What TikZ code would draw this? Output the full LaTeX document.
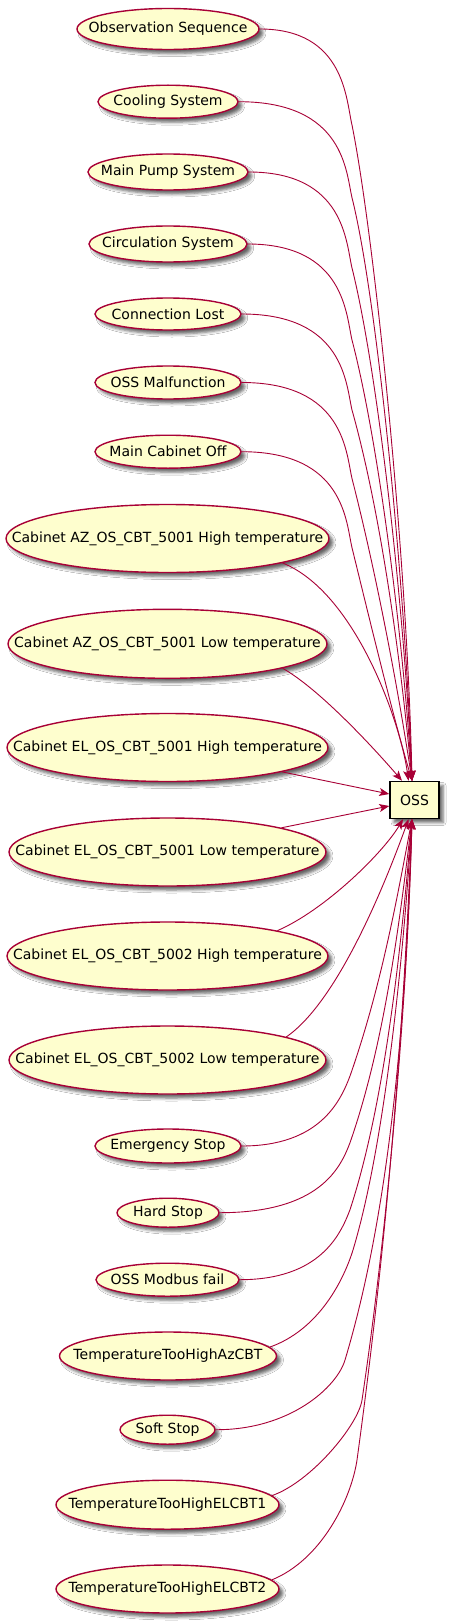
\documentclass[tikz,border=0pt]{standalone}
\usepackage{fontspec}
\setmainfont{DejaVu Sans}
\usetikzlibrary{shapes.geometric,arrows.meta,shadows.blur,calc}
\definecolor{ucfill}{HTML}{FEFECE}
\definecolor{ucline}{HTML}{A80036}
\tikzset{
  shad/.style={blur shadow={shadow xshift=4pt,shadow yshift=-4pt,shadow blur radius=3pt,shadow opacity=60}},
  uc/.style={ellipse, draw=ucline, fill=ucfill, line width=1.4pt, inner sep=0pt, shad},
  ossbox/.style={rectangle, draw=black, fill=ucfill, line width=1.5pt, inner sep=0pt, minimum width=49pt, minimum height=37pt, shad},
  edge/.style={draw=ucline, line width=0.9pt, -{Stealth[length=10pt,width=8pt,inset=2.5pt]}},
  every label/.style={inner sep=0pt, text=black}
}
\begin{document}
\begin{tikzpicture}[x=1pt,y=-1pt,font=\fontsize{14}{16}\selectfont]
\fill[white] (0,0) rectangle (449,1624);
\useasboundingbox (0,0) rectangle (449,1624);

\node[uc, minimum width=182pt, minimum height=41pt, label={[name=t1]center:Observation Sequence}] (e1) at (168,29) {};
\node[uc, minimum width=140pt, minimum height=33pt, label={[name=t2]center:Cooling System}] (e2) at (168,101.7) {};
\node[uc, minimum width=160pt, minimum height=36pt, label={[name=t3]center:Main Pump System}] (e3) at (168,172) {};
\node[uc, minimum width=158pt, minimum height=36pt, label={[name=t4]center:Circulation System}] (e4) at (168,244) {};
\node[uc, minimum width=146pt, minimum height=32pt, label={[name=t5]center:Connection Lost}] (e5) at (168,314) {};
\node[uc, minimum width=146pt, minimum height=33pt, label={[name=t6]center:OSS Malfunction}] (e6) at (168,382.5) {};
\node[uc, minimum width=146pt, minimum height=33pt, label={[name=t7]center:Main Cabinet Off}] (e7) at (168,451.7) {};
\node[uc, minimum width=323pt, minimum height=68pt, label={[name=t8]center:Cabinet AZ\_OS\_CBT\_5001 High temperature}] (e8) at (167.5,538.5) {};
\node[uc, minimum width=319pt, minimum height=69pt, label={[name=t9]center:Cabinet AZ\_OS\_CBT\_5001 Low temperature}] (e9) at (167.5,643.8) {};
\node[uc, minimum width=321pt, minimum height=68pt, label={[name=t10]center:Cabinet EL\_OS\_CBT\_5001 High temperature}] (e10) at (167.5,747.5) {};
\node[uc, minimum width=317pt, minimum height=68pt, label={[name=t11]center:Cabinet EL\_OS\_CBT\_5001 Low temperature}] (e11) at (167.5,852) {};
\node[uc, minimum width=321pt, minimum height=68pt, label={[name=t12]center:Cabinet EL\_OS\_CBT\_5002 High temperature}] (e12) at (167.5,956) {};
\node[uc, minimum width=317pt, minimum height=68pt, label={[name=t13]center:Cabinet EL\_OS\_CBT\_5002 Low temperature}] (e13) at (167.5,1060) {};
\node[uc, minimum width=146pt, minimum height=34pt, label={[name=t14]center:Emergency Stop}] (e14) at (168,1146) {};
\node[uc, minimum width=102pt, minimum height=29pt, label={[name=t15]center:Hard Stop}] (e15) at (168,1212.7) {};
\node[uc, minimum width=143pt, minimum height=33pt, label={[name=t16]center:OSS Modbus fail}] (e16) at (167.5,1279.7) {};
\node[uc, minimum width=217pt, minimum height=48pt, label={[name=t17]center:TemperatureTooHighAzCBT}] (e17) at (168,1356) {};
\node[uc, minimum width=95pt, minimum height=29pt, label={[name=t18]center:Soft Stop}] (e18) at (167.5,1429.7) {};
\node[uc, minimum width=223pt, minimum height=49pt, label={[name=t19]center:TemperatureTooHighELCBT1}] (e19) at (167.5,1504.7) {};
\node[uc, minimum width=223pt, minimum height=48pt, label={[name=t20]center:TemperatureTooHighELCBT2}] (e20) at (167.5,1589) {};

\node[ossbox] (oss) at (414.5,800) {OSS};

% arrival points on the OSS box
\coordinate (ossT)  at ([xshift=-2.5pt]oss.north);
\coordinate (ossTa) at ([xshift=-6pt]oss.north);
\coordinate (ossTb) at ([xshift=-12.5pt]oss.north);
\coordinate (ossL1) at ([yshift=6pt]oss.west);
\coordinate (ossL2) at ([yshift=-6pt]oss.west);
\coordinate (ossB)  at ([xshift=-2.5pt]oss.south);
\coordinate (ossBa) at ([xshift=-6pt]oss.south);
\coordinate (ossBb) at ([xshift=-11.5pt]oss.south);

% edges into the top of OSS
\draw[edge] (e1.east) .. controls (345,29) and (346,100) .. (352,125) .. controls (374,235) and (407,552) .. (ossT);
\draw[edge] (e2.east) .. controls (345,101.7) and (346,172.7) .. (352,197.7) .. controls (377,297.7) and (405,581.7) .. (ossT);
\draw[edge] (e3.east) .. controls (345,172) and (346,243) .. (352,268) .. controls (377,368) and (404,601.7) .. (ossT);
\draw[edge] (e4.east) .. controls (345,244) and (346,315) .. (352,340) .. controls (378,440) and (402,626.7) .. (ossT);
\draw[edge] (e5.east) .. controls (345,314) and (346,385) .. (352,410) .. controls (380,510) and (400,651.7) .. (ossT);
\draw[edge] (e6.east) .. controls (345,382.5) and (346,453.5) .. (352,478.5) .. controls (375,568.5) and (397,681.7) .. (ossT);
\draw[edge] (e7.east) .. controls (345,451.7) and (346,522.7) .. (352,547.7) .. controls (375,641.7) and (392,711.7) .. (ossT);
\draw[edge] (e8.-12) .. controls (355,592) and (400.5,721.7) .. (ossTa);
\draw[edge] (e9.-12) .. controls (321,690) and (377,751.7) .. (ossTb);
% edges into the left side
\draw[edge] (e10.-12) -- (ossL1);
\draw[edge] (e11.12) -- (ossL2);
% edges into the bottom
\draw[edge] (e12.13) .. controls (325,910) and (383,853) .. (ossBb);
\draw[edge] (e13.11) .. controls (337,1002) and (383.5,888.3) .. (ossBa);
\draw[edge] (e14.east) .. controls (320,1146) and (340.5,1101) .. (350,1076) .. controls (381.5,986) and (397,898) .. (ossB);
\draw[edge] (e15.east) .. controls (320,1212.7) and (340.5,1167.7) .. (350,1142.7) .. controls (385,1042.7) and (400,918.3) .. (ossB);
\draw[edge] (e16.east) .. controls (320,1279.7) and (340.5,1234.7) .. (350,1209.7) .. controls (386,1100) and (402,938) .. (ossB);
\draw[edge] (e17.5) .. controls (318,1330) and (343,1282) .. (353,1250) .. controls (386,1140) and (404,948) .. (ossB);
\draw[edge] (e18.east) .. controls (290,1430) and (337,1387) .. (345,1360) .. controls (390,1210) and (406,1018) .. (ossB);
\draw[edge] (e19.5) .. controls (311,1482) and (358.25,1425) .. (362,1400) .. controls (384.5,1250) and (407,1018) .. (ossB);
\draw[edge] (e20.5) .. controls (321,1560) and (351,1500) .. (357,1460) .. controls (383,1270) and (402,1068) .. (ossB);
\end{tikzpicture}
\end{document}
